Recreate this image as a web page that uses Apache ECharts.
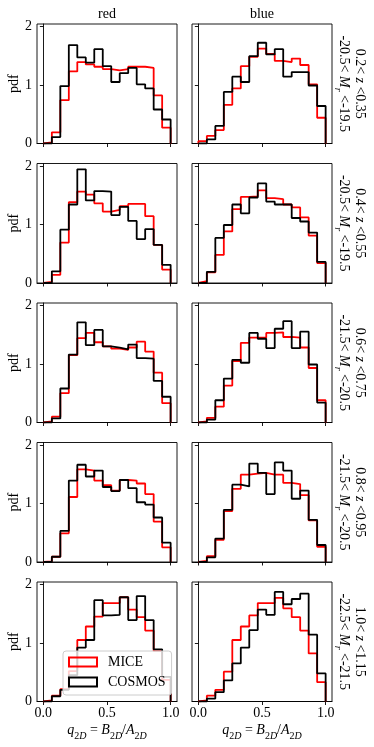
<!DOCTYPE html>
<html><head><meta charset="utf-8">
<script src="https://cdn.jsdelivr.net/npm/echarts@6/dist/echarts.min.js"></script>
<style>html,body{margin:0;padding:0;background:#fff}#c{width:374px;height:747px}</style>
</head><body><div id="c"></div>
<script>
// ---------- data ----------
const binCount = 15;            // bins over q2D in [0,1]
const columnTitles = ['red', 'blue'];
const seriesNames = ['MICE', 'COSMOS'];
const xTicks = [0, 0.5, 1];
const yTicks = [0, 1, 2];
const zRanges = [['0.2', '0.35'], ['0.4', '0.55'], ['0.6', '0.75'], ['0.8', '0.95'], ['1.0', '1.15']];
const mRanges = [['-20.5', '-19.5'], ['-20.5', '-19.5'], ['-21.5', '-20.5'], ['-21.5', '-20.5'], ['-22.5', '-21.5']];

// row 1 : 0.2<z<0.35
const miceRed1   = [0.02, 0.19, 0.74, 1.23, 1.39, 1.35, 1.31, 1.27, 1.25, 1.27, 1.31, 1.31, 1.29, 0.82, 0.27];
const cosmosRed1 = [0.00, 0.11, 0.98, 1.68, 1.47, 1.38, 1.61, 1.32, 1.05, 1.20, 1.29, 1.01, 0.94, 0.58, 0.41];
const miceBlue1  = [0.04, 0.13, 0.23, 0.66, 0.94, 1.32, 1.48, 1.62, 1.53, 1.41, 1.39, 1.45, 1.34, 1.01, 0.44];
const cosmosBlue1= [0.00, 0.07, 0.30, 0.88, 1.14, 1.05, 1.49, 1.72, 1.52, 1.61, 1.14, 1.22, 1.22, 0.99, 0.64];
// row 2 : 0.4<z<0.55
const miceRed2   = [0.02, 0.14, 0.69, 1.38, 1.56, 1.51, 1.36, 1.22, 1.25, 1.31, 1.35, 1.35, 1.14, 0.65, 0.23];
const cosmosRed2 = [0.00, 0.20, 0.91, 1.34, 1.94, 1.41, 1.57, 1.56, 1.16, 1.30, 1.06, 0.75, 0.92, 0.65, 0.31];
const miceBlue2  = [0.03, 0.18, 0.48, 0.88, 1.26, 1.47, 1.48, 1.58, 1.45, 1.43, 1.34, 1.29, 1.12, 0.81, 0.34];
const cosmosBlue2= [0.00, 0.19, 0.77, 0.99, 1.34, 1.19, 1.46, 1.70, 1.39, 1.34, 1.34, 1.11, 1.05, 0.86, 0.36];
// row 3 : 0.6<z<0.75
const miceRed3   = [0.02, 0.10, 0.50, 1.15, 1.44, 1.53, 1.37, 1.30, 1.26, 1.24, 1.28, 1.38, 1.21, 0.85, 0.33];
const cosmosRed3 = [0.00, 0.07, 0.58, 1.16, 1.71, 1.32, 1.58, 1.30, 1.28, 1.25, 1.33, 1.10, 1.09, 0.71, 0.44];
const miceBlue3  = [0.02, 0.08, 0.27, 0.63, 1.05, 1.36, 1.45, 1.45, 1.53, 1.54, 1.46, 1.45, 1.28, 0.93, 0.38];
const cosmosBlue3= [0.00, 0.05, 0.38, 0.75, 1.07, 1.02, 1.53, 1.43, 1.27, 1.60, 1.73, 1.27, 1.55, 0.99, 0.34];
// row 4 : 0.8<z<0.95
const miceRed4   = [0.01, 0.09, 0.49, 1.11, 1.58, 1.56, 1.39, 1.31, 1.22, 1.40, 1.39, 1.34, 1.16, 0.69, 0.25];
const cosmosRed4 = [0.00, 0.09, 0.53, 1.39, 1.66, 1.46, 1.56, 1.28, 1.21, 1.40, 1.26, 1.02, 0.98, 0.76, 0.33];
const miceBlue4  = [0.02, 0.10, 0.38, 0.87, 1.25, 1.49, 1.51, 1.52, 1.49, 1.49, 1.35, 1.33, 1.14, 0.71, 0.26];
const cosmosBlue4= [0.00, 0.08, 0.40, 0.89, 1.32, 1.29, 1.68, 1.52, 1.16, 1.70, 1.56, 1.08, 1.22, 0.72, 0.29];
// row 5 : 1.0<z<1.15
const miceRed5   = [0.02, 0.10, 0.21, 0.52, 1.05, 1.28, 1.45, 1.68, 1.68, 1.78, 1.57, 1.44, 1.21, 0.86, 0.37];
const cosmosRed5 = [0.00, 0.09, 0.20, 0.45, 0.92, 1.05, 1.73, 1.47, 1.48, 1.78, 1.39, 1.80, 1.39, 0.89, 0.42];
const miceBlue5  = [0.02, 0.10, 0.20, 0.51, 1.05, 1.28, 1.47, 1.68, 1.68, 1.77, 1.59, 1.44, 1.21, 0.82, 0.33];
const cosmosBlue5= [0.00, 0.05, 0.16, 0.36, 0.65, 0.92, 1.22, 1.57, 1.48, 1.87, 1.66, 1.75, 1.84, 1.14, 0.48];

const panels = [
  [[miceRed1, cosmosRed1], [miceBlue1, cosmosBlue1]],
  [[miceRed2, cosmosRed2], [miceBlue2, cosmosBlue2]],
  [[miceRed3, cosmosRed3], [miceBlue3, cosmosBlue3]],
  [[miceRed4, cosmosRed4], [miceBlue4, cosmosBlue4]],
  [[miceRed5, cosmosRed5], [miceBlue5, cosmosBlue5]]
];

// ---------- layout / style ----------
const FONT = 'Liberation Serif';
const colors = ['#ff0000', '#000000'];
const gridLeft = [37, 192], gridW = 140, gridTop0 = 24, rowStep = 139.5, gridH = 119.5;
const axisCol = '#000';

const rich = {
  m:  { fontFamily: FONT, fontSize: 14, lineHeight: 16, verticalAlign: 'top', color: '#000' },
  i:  { fontFamily: FONT, fontSize: 14, lineHeight: 16, verticalAlign: 'top', fontStyle: 'italic', color: '#000' },
  s:  { fontFamily: FONT, fontSize: 10, lineHeight: 10, verticalAlign: 'top', padding: [8, 0, 0, 0], color: '#000' },
  si: { fontFamily: FONT, fontSize: 10, lineHeight: 10, verticalAlign: 'top', padding: [8, 0, 0, 0], fontStyle: 'italic', color: '#000' }
};
const sub2D = '{s|2}{si|D}';
const xName = '{i|q}' + sub2D + '{m| = }{i|B}' + sub2D + '{m|/}{i|A}' + sub2D;

function histPoints(vals) {
  const pts = [[0, 0]];
  vals.forEach((v, k) => pts.push([k / binCount, v]));
  pts.push([1, 0]);
  return pts;
}

const grid = [], xAxis = [], yAxis = [], series = [], graphic = [];
panels.forEach((row, r) => {
  row.forEach((pair, c) => {
    const gi = grid.length;
    grid.push({ left: gridLeft[c], top: gridTop0 + rowStep * r, width: gridW, height: gridH,
      show: true, borderColor: axisCol, borderWidth: 0.9, backgroundColor: 'transparent' });
    const bottom = r === panels.length - 1;
    xAxis.push({
      type: 'value', gridIndex: gi, min: -0.05, max: 1.05,
      axisLine: { show: true, onZero: false, lineStyle: { color: axisCol, width: 0.9 } },
      axisTick: { show: true, length: 3.5, customValues: xTicks, lineStyle: { color: axisCol, width: 0.9 } },
      axisLabel: { show: bottom, customValues: xTicks, formatter: v => v.toFixed(1), fontFamily: FONT, fontSize: 14, color: '#000', margin: 5 },
      splitLine: { show: false },
      name: bottom ? xName : '', nameLocation: 'middle', nameGap: 22,
      nameTextStyle: { rich: rich }
    });
    yAxis.push({
      type: 'value', gridIndex: gi, min: 0, max: 2.04,
      axisLine: { show: true, lineStyle: { color: axisCol, width: 0.9 } },
      axisTick: { show: true, length: 3.5, customValues: yTicks, lineStyle: { color: axisCol, width: 0.9 } },
      axisLabel: { show: c === 0, customValues: yTicks, fontFamily: FONT, fontSize: 14, color: '#000', margin: 5 },
      splitLine: { show: false },
      name: c === 0 ? 'pdf' : '', nameLocation: 'middle', nameGap: 15, nameRotate: 90,
      nameTextStyle: { fontFamily: FONT, fontSize: 14, color: '#000' }
    });
    pair.forEach((vals, s) => {
      series.push({
        type: 'line', name: seriesNames[s], xAxisIndex: gi, yAxisIndex: gi,
        data: histPoints(vals), step: 'end', showSymbol: false, symbol: 'none',
        lineStyle: { color: colors[s], width: 1.8 }, itemStyle: { color: colors[s] },
        z: 2 + s, silent: true, animation: false
      });
    });
  });
  // right-hand row label
  const cy = gridTop0 + rowStep * r + gridH / 2;
  graphic.push({
    type: 'text', x: 351, y: cy, rotation: -Math.PI / 2,
    style: {
      text: '{m|' + zRanges[r][0] + '< }{i|z}{m| <' + zRanges[r][1] + '}\n{m|' + mRanges[r][0] + '< }{i|M}{si|r}{m| <' + mRanges[r][1] + '}',
      rich: rich, align: 'center', verticalAlign: 'middle'
    }
  });
});
columnTitles.forEach((t, c) => {
  graphic.push({ type: 'text', x: gridLeft[c] + gridW / 2, y: 14.5,
    style: { text: t, fontFamily: FONT, fontSize: 14, fill: '#000', align: 'center', verticalAlign: 'middle' } });
});

const chart = echarts.init(document.getElementById('c'), null, { renderer: 'canvas' });
chart.setOption({
  animation: false,
  backgroundColor: '#fff',
  grid, xAxis, yAxis, series, graphic,
  legend: {
    data: [
      { name: seriesNames[0], icon: 'rect', itemStyle: { color: 'rgba(0,0,0,0)', borderColor: colors[0], borderWidth: 2 } },
      { name: seriesNames[1], icon: 'rect', itemStyle: { color: 'rgba(0,0,0,0)', borderColor: colors[1], borderWidth: 2 } }
    ],
    orient: 'vertical', left: 63, top: 651,
    itemWidth: 28, itemHeight: 9, itemGap: 6,
    padding: [4, 6, 6, 5],
    backgroundColor: 'rgba(255,255,255,0.8)', borderColor: '#cccccc', borderWidth: 1, borderRadius: 3,
    textStyle: { fontFamily: FONT, fontSize: 14, color: '#000', padding: [0, 0, 0, 6] },
    selectedMode: false
  }
});
</script></body></html>
